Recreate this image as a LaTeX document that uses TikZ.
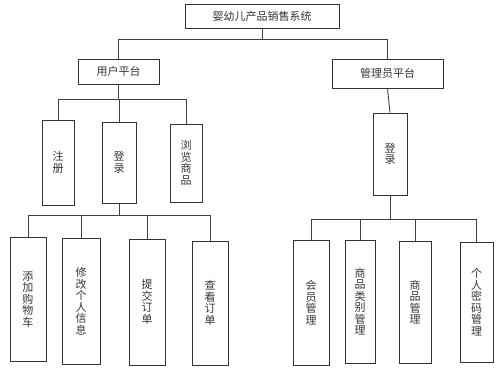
\documentclass[tikz,border=0pt]{standalone}
\usepackage{fontspec}
\setmainfont{Noto Sans CJK SC}
\begin{document}
\begin{tikzpicture}[x=1pt,y=-1pt,
  box/.style={draw=black!80, line width=0.9pt, inner sep=0pt, align=center, text=black!80,
    font=\fontsize{11}{11.5}\selectfont},
  wire/.style={draw=black!75, line width=0.9pt}]
\useasboundingbox (0,0) rectangle (499,371);
% top
\node[box, minimum width=154pt, minimum height=24pt] (root) at (262,16) {婴幼儿产品销售系统};
\node[box, minimum width=81pt, minimum height=25pt] (user) at (118.5,71.5) {用户平台};
\node[box, minimum width=111pt, minimum height=29pt] (admin) at (387.5,73.5) {管理员平台};
% user level
\node[box, minimum width=32pt, minimum height=85pt] (reg) at (58,162.5) {注\\册};
\node[box, minimum width=34pt, minimum height=81pt] (login) at (119,162.5) {登\\录};
\node[box, minimum width=32pt, minimum height=78pt] (browse) at (186,163) {浏\\览\\商\\品};
% user bottom
\node[box, minimum width=36pt, minimum height=124pt] (b1) at (28,299) {添\\加\\购\\物\\车};
\node[box, minimum width=38pt, minimum height=126pt] (b2) at (81,301) {修\\改\\个\\人\\信\\息};
\node[box, minimum width=36pt, minimum height=126pt] (b3) at (147,302) {提\\交\\订\\单};
\node[box, minimum width=36pt, minimum height=124pt] (b4) at (210,303) {查\\看\\订\\单};
% admin
\node[box, minimum width=34pt, minimum height=82pt] (alogin) at (390,154) {登\\录};
\node[box, minimum width=36pt, minimum height=125pt] (r1) at (311,302.5) {会\\员\\管\\理};
\node[box, minimum width=30pt, minimum height=123pt] (r2) at (360,301.5) {商\\品\\类\\别\\管\\理};
\node[box, minimum width=32pt, minimum height=122pt] (r3) at (415,302) {商\\品\\管\\理};
\node[box, minimum width=33pt, minimum height=120pt] (r4) at (476.5,302) {个\\人\\密\\码\\管\\理};
% bus coordinates
\coordinate (busA) at (0,39);
\coordinate (busB) at (0,99);
\coordinate (busC) at (0,215);
\coordinate (busD) at (0,219);
% connectors
\draw[wire] (root.south) -- (root.south |- busA);
\draw[wire] (user.north) -- (user.north |- busA) -- (admin.north |- busA) -- (admin.north);
\draw[wire] (user.south) -- (user.south |- busB);
\draw[wire] (reg.north) -- (reg.north |- busB) -- (browse.north |- busB) -- (browse.north);
\draw[wire] (login.north) -- (login.north |- busB);
\draw[wire] (login.south) -- (login.south |- busC);
\draw[wire] (b1.north) -- (b1.north |- busC) -- (b4.north |- busC) -- (b4.north);
\draw[wire] (b2.north) -- (b2.north |- busC);
\draw[wire] (b3.north) -- (b3.north |- busC);
\draw[wire] (admin.south) -- (alogin.north);
\draw[wire] (alogin.south) -- (alogin.south |- busD);
\draw[wire] (r1.north) -- (r1.north |- busD) -- (r4.north |- busD) -- (r4.north);
\draw[wire] (r2.north) -- (r2.north |- busD);
\draw[wire] (r3.north) -- (r3.north |- busD);
\end{tikzpicture}
\end{document}
